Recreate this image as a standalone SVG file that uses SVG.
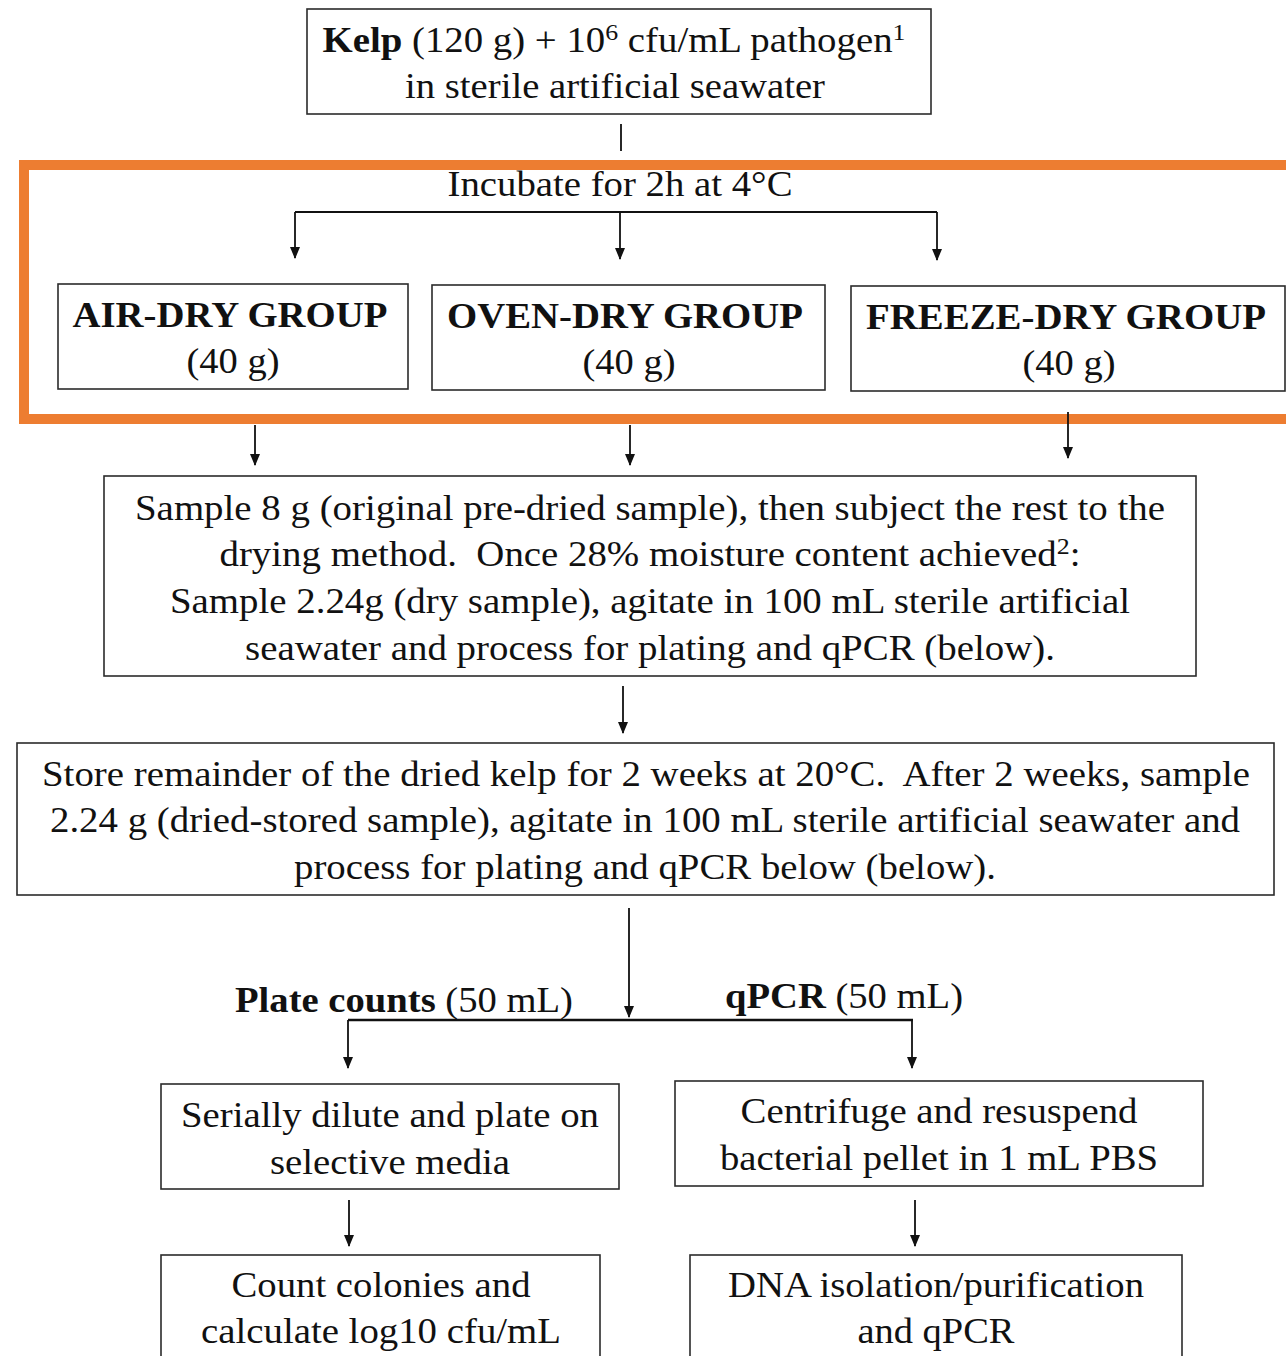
<svg xmlns="http://www.w3.org/2000/svg" width="1286" height="1356" viewBox="0 0 1286 1356">
<style>
.box{fill:#fff;stroke:#2b2b2b;stroke-width:1.6}
.t{font-family:"Liberation Serif","Times New Roman",serif;font-size:36px;fill:#111;text-anchor:middle}
.b{font-weight:bold}
.c{stroke:#111;stroke-width:1.8;fill:none}
</style>
<defs>
<marker id="ahd" markerWidth="10" markerHeight="12" refX="5" refY="11" markerUnits="userSpaceOnUse" viewBox="0 0 10 12">
<path d="M0,0 L10,0 L5,12 Z" fill="#111"/>
</marker>
</defs>
<rect width="1286" height="1356" fill="#fff"/>

<g id="highlight">
<rect x="24" y="165" width="1300" height="254" fill="none" stroke="#ED7D31" stroke-width="10"/>
</g>

<g id="connectors">
<line class="c" x1="621" y1="124" x2="621" y2="151"/>
<line class="c" x1="295" y1="212" x2="937" y2="212"/>
<path class="c" d="M295,212 V258" marker-end="url(#ahd)"/>
<path class="c" d="M620,212 V259" marker-end="url(#ahd)"/>
<path class="c" d="M937,212 V260" marker-end="url(#ahd)"/>
<path class="c" d="M255,425 V465" marker-end="url(#ahd)"/>
<path class="c" d="M630,425 V465" marker-end="url(#ahd)"/>
<path class="c" d="M1068,412 V458" marker-end="url(#ahd)"/>
<path class="c" d="M623,686 V733" marker-end="url(#ahd)"/>
<path class="c" d="M629,908 V1017" marker-end="url(#ahd)"/>
<line class="c" x1="348" y1="1020" x2="913" y2="1020" style="stroke-width:2.6"/>
<path class="c" d="M348,1020 V1068" marker-end="url(#ahd)"/>
<path class="c" d="M912,1020 V1068" marker-end="url(#ahd)"/>
<path class="c" d="M349,1200 V1246" marker-end="url(#ahd)"/>
<path class="c" d="M915,1200 V1246" marker-end="url(#ahd)"/>
</g>

<g id="n-kelp">
<rect class="box" x="307" y="9" width="624" height="105"/>
<text class="t" x="614" y="52" textLength="583" lengthAdjust="spacingAndGlyphs"><tspan class="b">Kelp</tspan> (120 g) + 10<tspan font-size="24" dy="-12">6</tspan><tspan dy="12"> cfu/mL pathogen</tspan><tspan font-size="24" dy="-12">1</tspan></text>
<text class="t" x="615" y="98" textLength="420" lengthAdjust="spacingAndGlyphs">in sterile artificial seawater</text>
</g>

<g id="lbl-incubate">
<text class="t" x="620" y="196" textLength="345" lengthAdjust="spacingAndGlyphs">Incubate for 2h at 4°C</text>
</g>

<g id="n-air">
<rect class="box" x="58" y="284" width="350" height="105"/>
<text class="t b" x="230" y="327" textLength="315" lengthAdjust="spacingAndGlyphs">AIR-DRY GROUP</text>
<text class="t" x="233" y="373" textLength="93" lengthAdjust="spacingAndGlyphs">(40 g)</text>
</g>
<g id="n-oven">
<rect class="box" x="432" y="285" width="393" height="105"/>
<text class="t b" x="625" y="328" textLength="356" lengthAdjust="spacingAndGlyphs">OVEN-DRY GROUP</text>
<text class="t" x="629" y="374" textLength="93" lengthAdjust="spacingAndGlyphs">(40 g)</text>
</g>
<g id="n-freeze">
<rect class="box" x="851" y="286" width="434" height="105"/>
<text class="t b" x="1066" y="329" textLength="400" lengthAdjust="spacingAndGlyphs">FREEZE-DRY GROUP</text>
<text class="t" x="1069" y="375" textLength="93" lengthAdjust="spacingAndGlyphs">(40 g)</text>
</g>

<g id="n-sample">
<rect class="box" x="104" y="476" width="1092" height="200"/>
<text class="t" x="650" y="520" textLength="1030" lengthAdjust="spacingAndGlyphs">Sample 8 g (original pre-dried sample), then subject the rest to the</text>
<text class="t" x="650" y="566" xml:space="preserve" textLength="861" lengthAdjust="spacingAndGlyphs">drying method.  Once 28% moisture content achieved<tspan font-size="24" dy="-12">2</tspan><tspan dy="12">:</tspan></text>
<text class="t" x="650" y="613" textLength="960" lengthAdjust="spacingAndGlyphs">Sample 2.24g (dry sample), agitate in 100 mL sterile artificial</text>
<text class="t" x="650" y="660" textLength="810" lengthAdjust="spacingAndGlyphs">seawater and process for plating and qPCR (below).</text>
</g>

<g id="n-store">
<rect class="box" x="17" y="743" width="1257" height="152"/>
<text class="t" x="646" y="786" xml:space="preserve" textLength="1208" lengthAdjust="spacingAndGlyphs">Store remainder of the dried kelp for 2 weeks at 20°C.  After 2 weeks, sample</text>
<text class="t" x="645" y="832" textLength="1190" lengthAdjust="spacingAndGlyphs">2.24 g (dried-stored sample), agitate in 100 mL sterile artificial seawater and</text>
<text class="t" x="645" y="879" textLength="702" lengthAdjust="spacingAndGlyphs">process for plating and qPCR below (below).</text>
</g>

<g id="lbl-plate">
<text class="t" x="404" y="1012" textLength="338" lengthAdjust="spacingAndGlyphs"><tspan class="b">Plate counts</tspan> (50 mL)</text>
</g>
<g id="lbl-qpcr">
<text class="t" x="844" y="1008" textLength="238" lengthAdjust="spacingAndGlyphs"><tspan class="b">qPCR</tspan> (50 mL)</text>
</g>

<g id="n-serial">
<rect class="box" x="161" y="1084" width="458" height="105"/>
<text class="t" x="390" y="1127" textLength="418" lengthAdjust="spacingAndGlyphs">Serially dilute and plate on</text>
<text class="t" x="390" y="1174" textLength="240" lengthAdjust="spacingAndGlyphs">selective media</text>
</g>
<g id="n-centrifuge">
<rect class="box" x="675" y="1081" width="528" height="105"/>
<text class="t" x="939" y="1123" textLength="397" lengthAdjust="spacingAndGlyphs">Centrifuge and resuspend</text>
<text class="t" x="939" y="1170" textLength="438" lengthAdjust="spacingAndGlyphs">bacterial pellet in 1 mL PBS</text>
</g>

<g id="n-count">
<rect class="box" x="161" y="1255" width="439" height="120"/>
<text class="t" x="381" y="1297" textLength="299" lengthAdjust="spacingAndGlyphs">Count colonies and</text>
<text class="t" x="381" y="1343" textLength="360" lengthAdjust="spacingAndGlyphs">calculate log10 cfu/mL</text>
</g>
<g id="n-dna">
<rect class="box" x="690" y="1255" width="492" height="120"/>
<text class="t" x="936" y="1297" textLength="416" lengthAdjust="spacingAndGlyphs">DNA isolation/purification</text>
<text class="t" x="936" y="1343" textLength="157" lengthAdjust="spacingAndGlyphs">and qPCR</text>
</g>
</svg>
